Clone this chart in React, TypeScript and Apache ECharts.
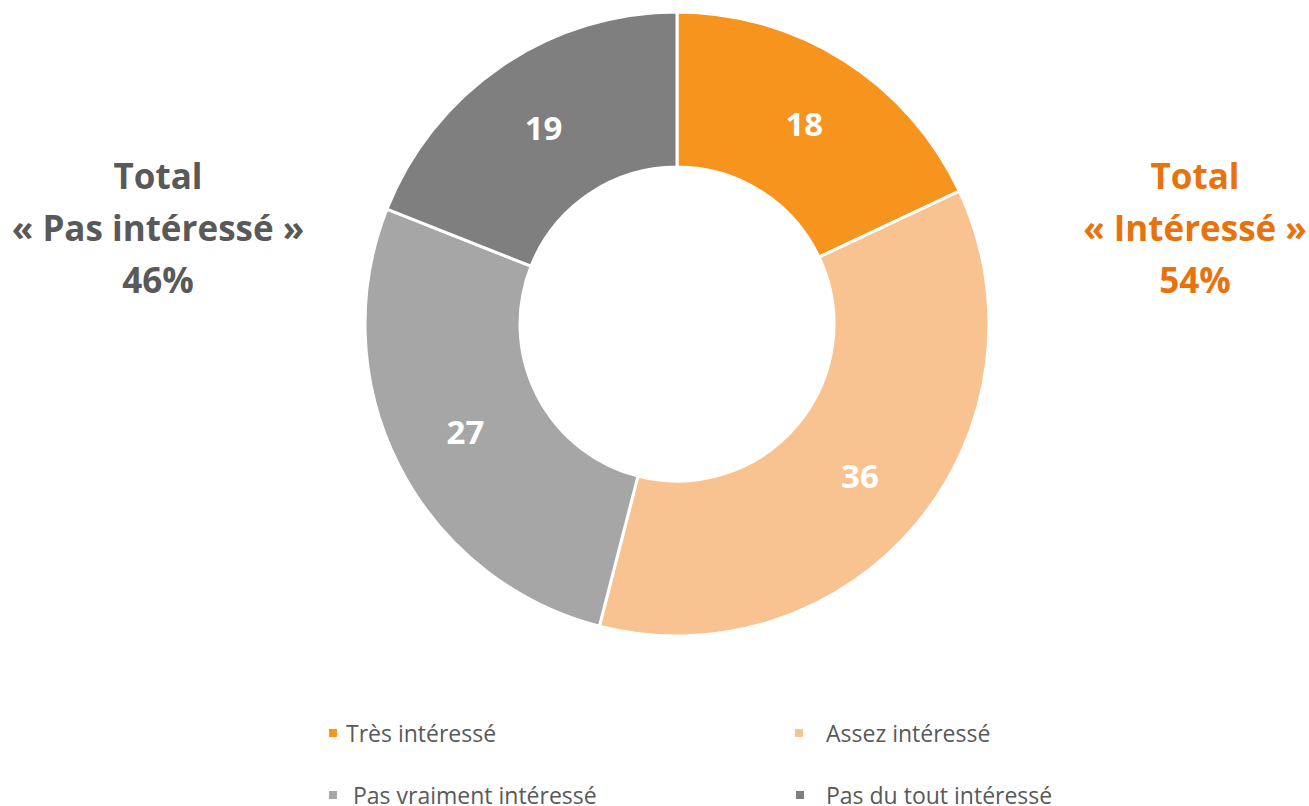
import React, { useEffect, useRef } from "react";
import * as echarts from "echarts";

const categories = ["Très intéressé", "Assez intéressé", "Pas vraiment intéressé", "Pas du tout intéressé"];
const values = [18, 36, 27, 19];
const colors = ["#F7941D", "#F9C291", "#A6A6A6", "#7F7F7F"];
const leftTotal = ["Total", "« Pas intéressé »", "46%"];
const rightTotal = ["Total", "« Intéressé »", "54%"];

const FONT = "'Open Sans', sans-serif";

export default function App() {
  const ref = useRef<HTMLDivElement>(null);
  useEffect(() => {
    const chart = echarts.init(ref.current!, null, { renderer: "svg" });
    const legendPos = [
      { left: 327, top: 721, pad: 3 },
      { left: 793, top: 721, pad: 17 },
      { left: 327, top: 783, pad: 10 },
      { left: 794, top: 783, pad: 16 },
    ];
    chart.setOption({
      animation: false,
      backgroundColor: "#ffffff",
      legend: categories.map((c, i) => ({
        data: [c],
        left: legendPos[i].left,
        top: legendPos[i].top,
        padding: 0,
        itemWidth: 10,
        itemHeight: 10,
        icon: "rect",
        selectedMode: false,
        textStyle: {
          fontFamily: FONT,
          fontSize: 23,
          lineHeight: 24,
          color: "#595959",
          padding: [0, 0, 0, legendPos[i].pad],
        },
      })),
      graphic: [
        {
          type: "text",
          x: 158,
          y: 227,
          style: {
            text: leftTotal.join("\n"),
            fill: "#595959",
            font: `bold 35px ${FONT}`,
            lineHeight: 52,
            align: "center",
            verticalAlign: "middle",
          },
        },
        {
          type: "text",
          x: 1195,
          y: 227,
          style: {
            text: rightTotal.join("\n"),
            fill: "#E8720C",
            font: `bold 35px ${FONT}`,
            lineHeight: 52,
            align: "center",
            verticalAlign: "middle",
          },
        },
      ],
      series: [
        {
          type: "pie",
          center: [677, 324],
          radius: [157, 312],
          startAngle: 90,
          clockwise: true,
          avoidLabelOverlap: false,
          itemStyle: { borderColor: "#ffffff", borderWidth: 3 },
          label: {
            show: true,
            position: "inside",
            formatter: "{c}",
            color: "#ffffff",
            fontFamily: FONT,
            fontWeight: "bold",
            fontSize: 33,
          },
          labelLine: { show: false },
          emphasis: { disabled: true },
          data: categories.map((c, i) => ({
            name: c,
            value: values[i],
            itemStyle: { color: colors[i] },
          })),
        },
      ],
    });
    return () => chart.dispose();
  }, []);
  return (
    <div
      ref={ref}
      style={{ position: "absolute", left: 0, top: 0, width: 1309, height: 806 }}
    />
  );
}
